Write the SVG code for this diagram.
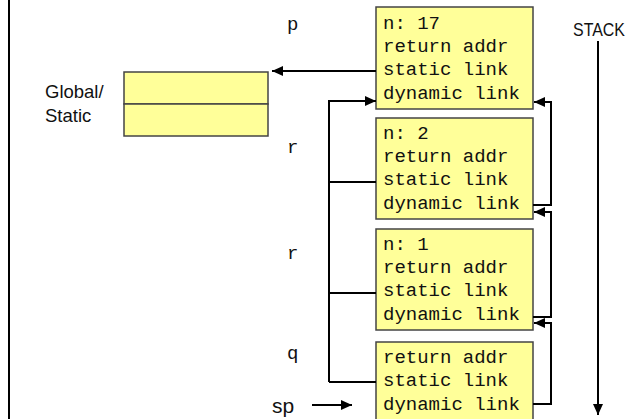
<svg xmlns="http://www.w3.org/2000/svg" width="631" height="419" viewBox="0 0 631 419">
  <defs>
    <style>
      .frame { fill: #ffff99; stroke: #444444; stroke-width: 1.5; }
      .mono { font-family: "Liberation Mono", "Courier New", monospace; font-size: 19px; fill: #111111; }
      .sans { font-family: "Liberation Sans", Arial, sans-serif; fill: #111111; }
      .link { fill: none; stroke: #000000; stroke-width: 2; }
    </style>
    <marker id="head" viewBox="0 0 11 10" refX="11" refY="5" markerWidth="11" markerHeight="10" markerUnits="userSpaceOnUse" orient="auto">
      <path d="M0,0 L11,5 L0,10 z" fill="#000000"/>
    </marker>
  </defs>

  <rect x="0" y="0" width="631" height="419" fill="#ffffff"/>
  <!-- left border -->
  <line x1="9" y1="0" x2="9" y2="419" stroke="#000000" stroke-width="2"/>

  <!-- global / static area -->
  <g id="global">
    <rect class="frame" x="124" y="72" width="144" height="32"/>
    <rect class="frame" x="124" y="104" width="144" height="32"/>
    <text class="sans" x="45" y="98" font-size="18.5">Global/</text>
    <text class="sans" x="45" y="122" font-size="18.5">Static</text>
  </g>

  <!-- activation records -->
  <g id="frame-p">
    <rect class="frame" x="376" y="7" width="157" height="102"/>
    <text class="mono" x="383" y="29">n: 17</text>
    <text class="mono" x="383" y="52">return addr</text>
    <text class="mono" x="383" y="75">static link</text>
    <text class="mono" x="383" y="99">dynamic link</text>
    <text class="mono" x="287" y="30">p</text>
  </g>
  <g id="frame-r2">
    <rect class="frame" x="376" y="118" width="157" height="101"/>
    <text class="mono" x="383" y="139">n: 2</text>
    <text class="mono" x="383" y="162">return addr</text>
    <text class="mono" x="383" y="185">static link</text>
    <text class="mono" x="383" y="209">dynamic link</text>
    <text class="mono" x="287" y="153">r</text>
  </g>
  <g id="frame-r1">
    <rect class="frame" x="376" y="229" width="157" height="101"/>
    <text class="mono" x="383" y="250">n: 1</text>
    <text class="mono" x="383" y="273">return addr</text>
    <text class="mono" x="383" y="296">static link</text>
    <text class="mono" x="383" y="320">dynamic link</text>
    <text class="mono" x="287" y="259">r</text>
  </g>
  <g id="frame-q">
    <rect class="frame" x="376" y="342" width="157" height="90"/>
    <text class="mono" x="383" y="363">return addr</text>
    <text class="mono" x="383" y="386">static link</text>
    <text class="mono" x="383" y="410">dynamic link</text>
    <text class="mono" x="287" y="359">q</text>
  </g>

  <g id="stack-label">
    <text class="sans" x="573" y="36" font-size="18" textLength="52" lengthAdjust="spacingAndGlyphs">STACK</text>
  </g>
  <g id="sp-label">
    <text class="sans" x="272" y="413" font-size="21">sp</text>
  </g>

  <!-- connectors -->
  <g id="connectors">
    <!-- static link of p to globals -->
    <line class="link" x1="376" y1="71" x2="272" y2="71" marker-end="url(#head)"/>
    <!-- static links of r, r, q to p -->
    <polyline class="link" points="329,382 329,101 376,101" marker-end="url(#head)"/>
    <line class="link" x1="329" y1="182" x2="376" y2="182"/>
    <line class="link" x1="329" y1="293" x2="376" y2="293"/>
    <line class="link" x1="329" y1="382" x2="376" y2="382"/>
    <!-- dynamic links -->
    <polyline class="link" points="533,205 551,205 551,102 534,102" marker-end="url(#head)"/>
    <polyline class="link" points="533,317 551,317 551,212 534,212" marker-end="url(#head)"/>
    <polyline class="link" points="533,404 551,404 551,323 534,323" marker-end="url(#head)"/>
    <!-- stack direction -->
    <line class="link" x1="598" y1="41" x2="598" y2="415" marker-end="url(#head)"/>
    <!-- stack pointer -->
    <line class="link" x1="312" y1="405" x2="352" y2="405" marker-end="url(#head)"/>
  </g>
</svg>
